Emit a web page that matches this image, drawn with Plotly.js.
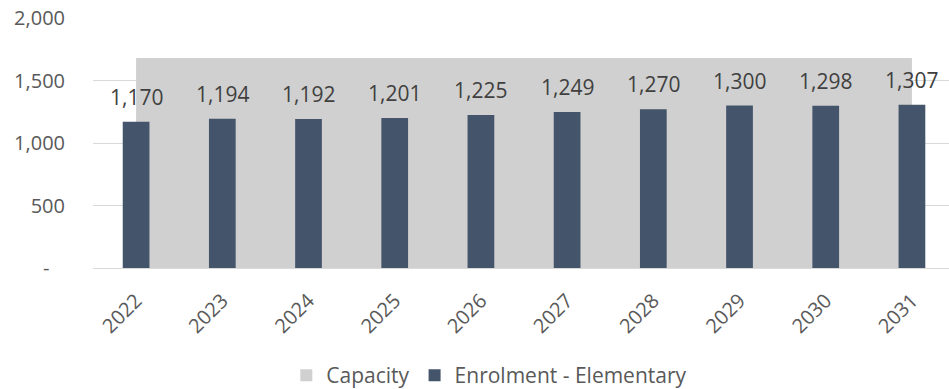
<!DOCTYPE html>
<html>
<head>
<meta charset="utf-8">
<script src="https://cdn.plot.ly/plotly-3.0.1.min.js"></script>
<style>html,body{margin:0;padding:0;background:#fff;}#chart{width:949px;height:389px;}</style>
</head>
<body>
<div id="chart"></div>
<script>
const years = ["2022","2023","2024","2025","2026","2027","2028","2029","2030","2031"];
const capacity = [1680,1680,1680,1680,1680,1680,1680,1680,1680,1680];
const enrolment = [1170,1194,1192,1201,1225,1249,1270,1300,1298,1307];
const yTickVals = [0,500,1000,1500,2000];
const yTickText = ["-\u00a0\u00a0\u00a0","500","1,000","1,500","2,000"];

const fmt = v => String(v).replace(/\B(?=(\d{3})+(?!\d))/g, ",");
const FONT = "Open Sans, Noto Sans, sans-serif";
const TXT = "#595959";
const CAP_COLOR = '#d0d0d0';
const ENR_COLOR = '#44546a';

const traces = [
  {
    // Capacity legend entry (square swatch); its markers sit on a hidden axis
    // whose range excludes them, so only the legend swatch shows
    type: 'scatter', mode: 'markers', name: 'Capacity', legendgroup: 'cap',
    x: years, y: capacity,
    marker: {symbol: 'square', size: 12, color: CAP_COLOR},
    xaxis: 'x', yaxis: 'y3', hoverinfo: 'skip', cliponaxis: true
  },
  {
    type: 'scatter', mode: 'none', name: 'Capacity', showlegend: false,
    legendgroup: 'cap',
    x: years, y: capacity, fill: 'tozeroy', fillcolor: CAP_COLOR,
    xaxis: 'x', yaxis: 'y', hoverinfo: 'skip'
  },
  {
    type: 'bar', name: 'Enrolment - Elementary',
    x: years, y: enrolment, width: 0.31,
    marker: {color: ENR_COLOR, line: {width: 0}},
    xaxis: 'x', yaxis: 'y2'
  }
];

const annotations = enrolment.map((v, i) => ({
  x: i, y: v, xref: 'x', yref: 'y',
  text: fmt(v), showarrow: false,
  yanchor: 'bottom', yshift: 9,
  font: {family: FONT, size: 21, color: '#404040'}
}));

const layout = {
  width: 949, height: 389,
  margin: {l: 93, r: 0, t: 18, b: 121, autoexpand: false},
  paper_bgcolor: '#ffffff', plot_bgcolor: '#ffffff',
  font: {family: FONT, size: 20, color: TXT},
  showlegend: true,
  legend: {
    orientation: 'h', xref: 'paper', yref: 'paper',
    x: 0.463, xanchor: 'center', y: -0.43, yanchor: 'middle',
    font: {family: FONT, size: 21, color: TXT},
    itemwidth: 30, traceorder: 'normal', tracegroupgap: 0
  },
  xaxis: {
    type: 'category', range: [-0.5, 9.43],
    tickangle: -45, showgrid: false, zeroline: false,
    showline: true, linecolor: '#d9d9d9', linewidth: 1, ticks: '',
    ticklabelstandoff: 12,
    tickfont: {family: FONT, size: 20, color: TXT}
  },
  yaxis: {
    range: [0, 2000], tickvals: yTickVals, ticktext: yTickText,
    showgrid: true, gridcolor: '#d9d9d9', gridwidth: 1,
    zeroline: false, showline: false, ticks: '',
    ticklabelstandoff: 27,
    tickfont: {family: FONT, size: 20, color: TXT}
  },
  yaxis2: {
    range: [0, 2000], overlaying: 'y', visible: false, showgrid: false
  },
  yaxis3: {
    range: [3000, 5000], overlaying: 'y', visible: false, showgrid: false
  },
  annotations: annotations
};

Plotly.newPlot('chart', traces, layout, {displayModeBar: false, staticPlot: true});
</script>
</body>
</html>
